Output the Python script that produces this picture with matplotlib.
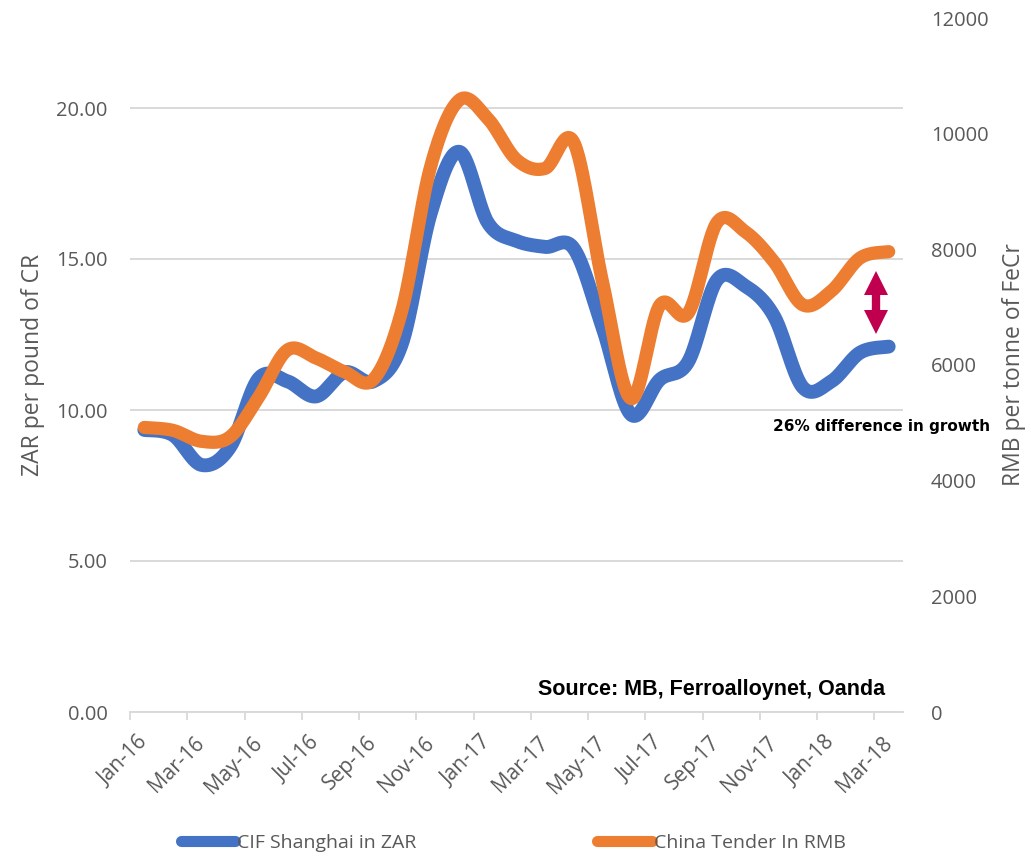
import numpy as np
import matplotlib
matplotlib.use("Agg")
import matplotlib.pyplot as plt
from matplotlib.lines import Line2D

# ---------------- data ----------------
months = ["Jan-16", "Feb-16", "Mar-16", "Apr-16", "May-16", "Jun-16", "Jul-16", "Aug-16", "Sep-16",
          "Oct-16", "Nov-16", "Dec-16", "Jan-17", "Feb-17", "Mar-17", "Apr-17", "May-17", "Jun-17",
          "Jul-17", "Aug-17", "Sep-17", "Oct-17", "Nov-17", "Dec-17", "Jan-18", "Feb-18", "Mar-18"]
cif_zar = [9.34, 9.17, 8.18, 8.78, 11.05, 10.95, 10.45, 11.25, 10.95, 12.2, 16.5, 18.55, 16.2, 15.6,
           15.4, 15.35, 12.75, 9.85, 11.0, 11.6, 14.3, 14.1, 13.1, 10.75, 10.95, 11.9, 12.1]
tender_rmb = [4920, 4870, 4680, 4760, 5450, 6260, 6120, 5880, 5750, 6950, 9430, 10580, 10260, 9550,
              9400, 9850, 7450, 5420, 7030, 6900, 8460, 8300, 7780, 7040, 7280, 7850, 7960]
left_ticks = [0, 5, 10, 15, 20]
right_ticks = [0, 2000, 4000, 6000, 8000, 10000, 12000]
series_names = ["CIF Shanghai in ZAR", "China Tender In RMB"]

BLUE = "#4472C4"
ORANGE = "#ED7D31"
GRAY = "#595959"
GRID = "#D9D9D9"


def smooth(xs, ys, n=30):
    """Excel-like smoothed line (cubic Bezier through every point)."""
    xs = np.asarray(xs, float)
    ys = np.asarray(ys, float)
    P = np.column_stack([xs, ys])
    Pe = np.vstack([P[0], P, P[-1]])
    out = []
    t = np.linspace(0, 1, n)[:, None]
    for i in range(len(P) - 1):
        p0 = P[i]
        p3 = P[i + 1]
        c1 = p0 + (Pe[i + 2] - Pe[i]) / 6.0
        c2 = p3 - (Pe[i + 3] - Pe[i + 1]) / 6.0
        seg = ((1 - t) ** 3) * p0 + 3 * ((1 - t) ** 2) * t * c1 + 3 * (1 - t) * t ** 2 * c2 + t ** 3 * p3
        out.append(seg if i == 0 else seg[1:])
    out = np.vstack(out)
    return out[:, 0], out[:, 1]


W, H = 1031, 856
fig = plt.figure(figsize=(W / 100, H / 100), dpi=100)
L, R, T, B = 130, 903, 18, 712
ax = fig.add_axes([L / W, 1 - B / H, (R - L) / W, (B - T) / H])
ax2 = ax.twinx()

x = np.arange(len(months))
bx, by = smooth(x, cif_zar)
ox, oy = smooth(x, tender_rmb)
ax.plot(bx, by, color=BLUE, lw=10, solid_capstyle="round", zorder=3)
ax2.plot(ox, oy, color=ORANGE, lw=9.5, solid_capstyle="round", zorder=3)

ax.set_xlim(-0.5, len(months) - 0.5)
ax.set_ylim(0, (B - T) / 30.2)
ax2.set_ylim(0, 12000)

tick_font = "Open Sans"
ax.set_yticks(left_ticks)
ax.set_yticklabels([f"{v:.2f}" for v in left_ticks], fontsize=14.5, color=GRAY, family=tick_font)
ax2.set_yticks(right_ticks)
ax2.set_yticklabels([str(v) for v in right_ticks], fontsize=14.5, color=GRAY, family=tick_font)
ax.tick_params(axis="y", length=0, pad=16)
ax2.tick_params(axis="y", length=0, pad=20)

ax.yaxis.grid(True, color=GRID, lw=1.4)
ax.set_axisbelow(True)

# x axis: labels at every second month, tick marks at category boundaries
lab_idx = x[::2]
ax.set_xticks(lab_idx)
ax.set_xticklabels([months[i] for i in lab_idx], rotation=45, ha="right", va="center",
                   rotation_mode="anchor", fontsize=15, color=GRAY, family=tick_font)
ax.tick_params(axis="x", length=0, pad=20)
ax.set_xticks(lab_idx - 0.5, minor=True)
ax.tick_params(axis="x", which="minor", length=6, color=GRID, width=1.3)

for a in (ax, ax2):
    for s in ("top", "left", "right"):
        a.spines[s].set_visible(False)
    a.spines["bottom"].set_color(GRID)
    a.spines["bottom"].set_linewidth(1.4)
ax2.spines["bottom"].set_visible(False)

ax.set_ylabel("ZAR per pound of CR", fontsize=16.5, color=GRAY, family=tick_font, labelpad=8)
ax2.set_ylabel("RMB per tonne of FeCr", fontsize=16.5, color=GRAY, family=tick_font, labelpad=10)

# annotations
ax2.text((882 - L) / (R - L), (712 - 427) / (B - T), "26% difference in growth", transform=ax.transAxes,
         ha="center", va="center", fontsize=11, fontweight="bold", family="DejaVu Sans",
         color="black", zorder=5, clip_on=False)
ax.text((885 - L) / (R - L), (712 - 689) / (B - T), "Source: MB, Ferroalloynet, Oanda",
        transform=ax.transAxes, ha="right", va="center", fontsize=15.5, fontweight="bold",
        family="Liberation Sans", color="black")

# double-headed arrow (annotation)
AR = "#C0004F"
axx = (876 - L) / (R - L)
ax2.plot([axx, axx], [(712 - 290) / (B - T), (712 - 315) / (B - T)], transform=ax.transAxes,
         color=AR, lw=6, solid_capstyle="butt", zorder=6)
ax2.plot([axx], [(712 - 283) / (B - T)], transform=ax.transAxes, marker="^", ms=17,
         color=AR, mec=AR, mew=0, zorder=7, clip_on=False)
ax2.plot([axx], [(712 - 322) / (B - T)], transform=ax.transAxes, marker="v", ms=17,
         color=AR, mec=AR, mew=0, zorder=7, clip_on=False)

# legend
handles = [Line2D([0], [0], color=BLUE, lw=8, solid_capstyle="round"),
           Line2D([0], [0], color=ORANGE, lw=8, solid_capstyle="round")]
leg = fig.legend(handles, series_names, loc="center", bbox_to_anchor=(513 / W, 1 - 843 / H),
                 ncol=2, frameon=False, handlelength=2.8, handletextpad=0.1, columnspacing=9.3,
                 prop={"family": tick_font, "size": 14})
for t in leg.get_texts():
    t.set_color(GRAY)

fig.savefig("out.png", dpi=100)
